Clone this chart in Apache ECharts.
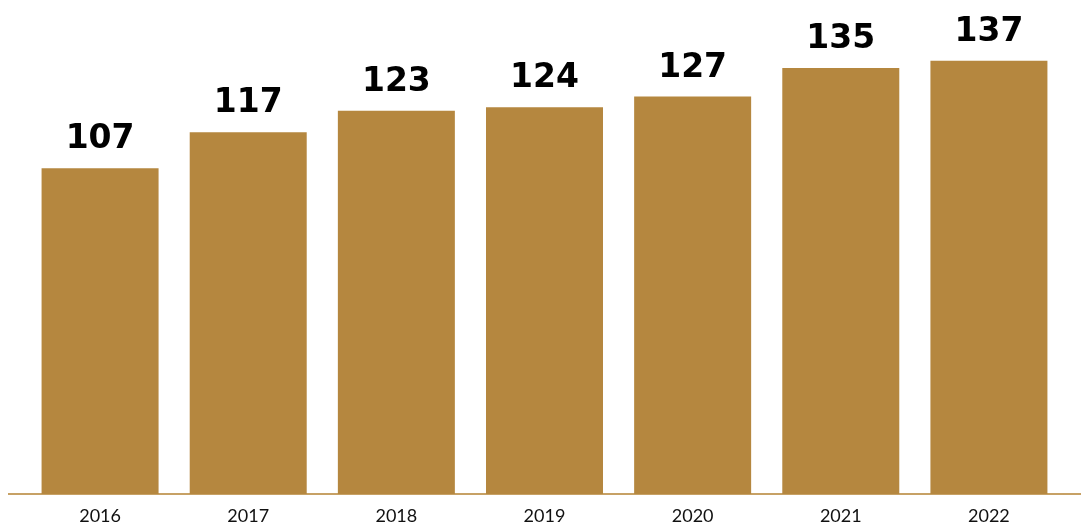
<!DOCTYPE html>
<html>
<head>
<meta charset="utf-8">
<script src="https://cdn.jsdelivr.net/npm/echarts@6/dist/echarts.min.js"></script>
<style>
  html, body { margin: 0; padding: 0; background: #fff; }
  #main { width: 1081px; height: 526px; }
</style>
</head>
<body>
<div id="main"></div>
<script>
var years = ['2016', '2017', '2018', '2019', '2020', '2021', '2022'];
var values = [107, 117, 123, 124, 127, 135, 137];

var barColor = '#b5873f';
var lineColor = '#c7a165';

var chart = echarts.init(document.getElementById('main'));

var option = {
  animation: false,
  grid: {
    left: 26,
    right: 18,
    top: 50,
    bottom: 32
  },
  // baseline runs the full width of the picture
  graphic: [{
    type: 'line',
    shape: { x1: 8, y1: 494, x2: 1081, y2: 494 },
    style: { stroke: lineColor, lineWidth: 2 },
    z: 0
  }],
  xAxis: {
    type: 'category',
    data: years,
    axisLine: { show: true, lineStyle: { color: lineColor, width: 2 } },
    axisTick: { show: false },
    axisLabel: {
      color: '#111',
      fontSize: 18,
      fontFamily: 'Lato',
      margin: 13
    }
  },
  yAxis: {
    type: 'value',
    min: 16,
    max: 140,
    show: false,
    splitLine: { show: false }
  },
  series: [{
    type: 'bar',
    data: values,
    barWidth: 117,
    itemStyle: { color: barColor },
    z: 2,
    label: {
      show: true,
      position: 'top',
      distance: 12,
      color: '#000',
      fontSize: 33,
      fontWeight: 'bold',
      fontFamily: 'DejaVu Sans'
    }
  }]
};

chart.setOption(option);
</script>
</body>
</html>
